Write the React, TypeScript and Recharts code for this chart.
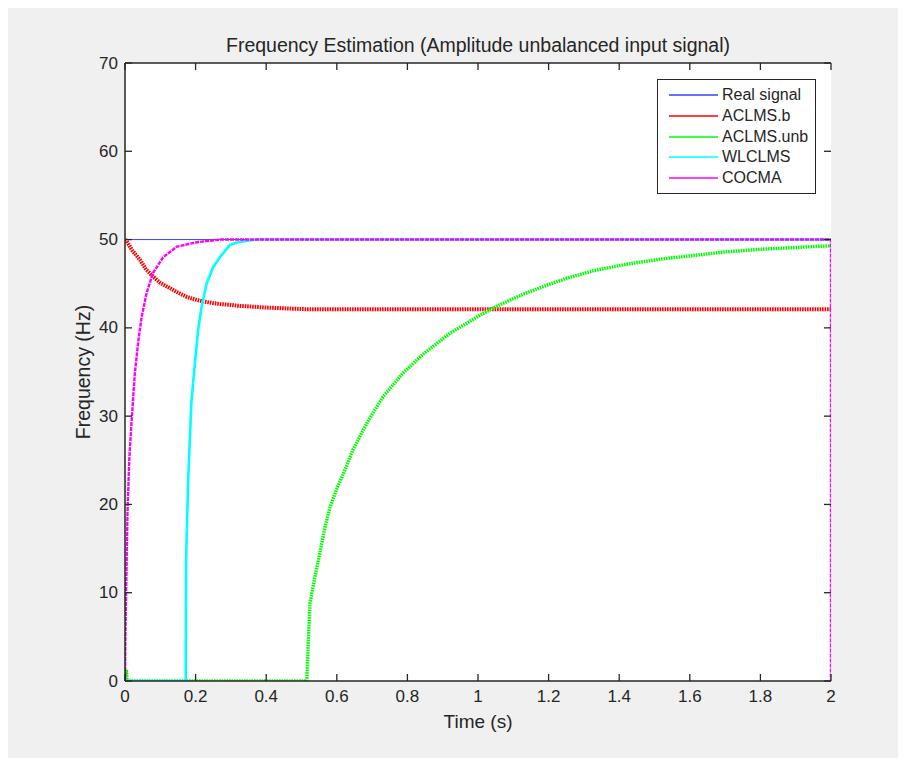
import React from 'react';
import { LineChart, Line, XAxis, YAxis, Legend, ReferenceLine } from 'recharts';

// Axis ticks
const timeTicks = [0, 0.2, 0.4, 0.6, 0.8, 1, 1.2, 1.4, 1.6, 1.8, 2];
const freqTicks = [0, 10, 20, 30, 40, 50, 60, 70];

// Real signal (Hz)
const realTime = [0, 2];
const realFreq = [50, 50];

// ACLMS.b estimate
const aclmsBTime = [0, 0.005, 0.02, 0.0425, 0.06, 0.08, 0.1, 0.127, 0.15, 0.175, 0.2, 0.221, 0.25, 0.269, 0.3, 0.32, 0.4, 0.52, 1, 1.5, 2];
const aclmsBFreq = [50, 49.8, 48.8, 47.7, 46.6, 45.8, 45.1, 44.5, 44.0, 43.5, 43.2, 43.0, 42.8, 42.7, 42.6, 42.5, 42.3, 42.1, 42.1, 42.1, 42.1];

// ACLMS.unb estimate
const aclmsUnbTime = [0, 0.004, 0.006, 0.515, 0.52, 0.524, 0.538, 0.552, 0.567, 0.581, 0.6, 0.618, 0.646, 0.685, 0.731, 0.788, 0.844, 0.921, 1.0, 1.05, 1.127, 1.2, 1.25, 1.33, 1.42, 1.52, 1.61, 1.7, 1.8, 1.9, 2.0];
const aclmsUnbFreq = [0, 1.3, 0, 0, 5, 8.8, 11.8, 14.5, 17.5, 19.7, 21.8, 23.4, 26.2, 29.2, 32.2, 34.9, 37.0, 39.4, 41.3, 42.4, 43.8, 44.9, 45.6, 46.5, 47.2, 47.8, 48.2, 48.6, 48.9, 49.1, 49.3];

// WLCLMS estimate
const wlclmsTime = [0, 0.172, 0.173, 0.179, 0.188, 0.198, 0.207, 0.217, 0.231, 0.25, 0.269, 0.297, 0.32, 0.37, 2.0];
const wlclmsFreq = [0, 0, 13.7, 22.8, 31.5, 36, 39.7, 42.4, 45, 46.9, 48, 49.4, 49.7, 50, 50];

// COCMA estimate
const cocmaTime = [0, 0.001, 0.004, 0.007, 0.012, 0.017, 0.028, 0.038, 0.047, 0.061, 0.079, 0.108, 0.147, 0.204, 0.27, 2.0, 2.0];
const cocmaFreq = [0, 5, 12, 19, 25, 28.4, 34.9, 38.6, 41.2, 43.9, 46.2, 48, 49.2, 49.7, 50, 50, 0];

const seriesNames = ['Real signal', 'ACLMS.b', 'ACLMS.unb', 'WLCLMS', 'COCMA'];
const seriesColors = ['#3344ff', '#ff0000', '#00ff00', '#00ffff', '#ff00ff'];
const seriesWidths = [1, 4, 3.4, 2.6, 2.4];
// the estimators ripple around their mean; a fine dash keeps the band's texture
const seriesDash = ['', '1.6 0.9', '1.6 0.9', '', '4 1'];

const toPoints = (t: number[], f: number[]) => t.map((v, i) => ({ t: v, f: f[i] }));

const seriesData = [
  toPoints(realTime, realFreq),
  toPoints(aclmsBTime, aclmsBFreq),
  toPoints(aclmsUnbTime, aclmsUnbFreq),
  toPoints(wlclmsTime, wlclmsFreq),
  toPoints(cocmaTime, cocmaFreq),
];

const FONT = '"Liberation Sans", Arial, Helvetica, sans-serif';
const INK = '#262626';
const TICK_LEN = 7;
const X_TICK_GAP = 15;
const Y_TICK_GAP = 7;

const CHART_W = 898;
const CHART_H = 750;
const MARGIN = { top: 0, right: 75, bottom: 0, left: 0 };
const X_AXIS_H = 77;
const TOP_AXIS_H = 55;
const Y_AXIS_W = 117;
const PLOT_W = CHART_W - MARGIN.left - MARGIN.right - Y_AXIS_W;
const PLOT_H = CHART_H - MARGIN.top - MARGIN.bottom - TOP_AXIS_H - X_AXIS_H;

const T_MIN = timeTicks[0];
const T_MAX = timeTicks[timeTicks.length - 1];
const F_MIN = freqTicks[0];
const F_MAX = freqTicks[freqTicks.length - 1];
// tick mark length expressed in each axis' units
const TICK_DT = ((T_MAX - T_MIN) * TICK_LEN) / PLOT_W;
const TICK_DF = ((F_MAX - F_MIN) * TICK_LEN) / PLOT_H;

const LegendBox = () => (
  <div
    style={{
      width: 157,
      height: 108,
      border: `1px solid ${INK}`,
      background: '#ffffff',
      boxSizing: 'content-box',
      paddingTop: 5,
      fontFamily: FONT,
      fontSize: 16,
      color: INK,
    }}
  >
    {seriesNames.map((name, i) => (
      <div key={name} style={{ height: 20.7, display: 'flex', alignItems: 'center' }}>
        <svg width={64} height={10} style={{ flex: 'none' }}>
          <line x1={11} x2={60} y1={5} y2={5} stroke={seriesColors[i]} strokeWidth={1.5} />
        </svg>
        <span style={{ lineHeight: '20px' }}>{name}</span>
      </div>
    ))}
  </div>
);

const BottomTick = (props: any) => {
  const { x, y, payload } = props;
  return (
    <text x={x} y={y + 6} textAnchor="middle" fontFamily={FONT} fontSize={17} fill={INK}>
      {payload.value}
    </text>
  );
};

const LeftTick = (props: any) => {
  const { x, y, payload } = props;
  return (
    <text x={x} y={y} textAnchor="end" dominantBaseline="central" fontFamily={FONT} fontSize={17} fill={INK}>
      {payload.value}
    </text>
  );
};

const TitleLabel = (props: any) => {
  const vb = props.viewBox || {};
  return (
    <text x={vb.x + vb.width / 2} y={vb.y + vb.height - 11} textAnchor="middle" fontFamily={FONT} fontSize={19.5} fill={INK}>
      Frequency Estimation (Amplitude unbalanced input signal)
    </text>
  );
};

const XTitle = (props: any) => {
  const vb = props.viewBox || {};
  return (
    <text x={vb.x + vb.width / 2} y={vb.y + 47} textAnchor="middle" fontFamily={FONT} fontSize={19} fill={INK}>
      Time (s)
    </text>
  );
};

const YTitle = (props: any) => {
  const vb = props.viewBox || {};
  const cx = vb.x + 75;
  const cy = vb.y + vb.height / 2;
  return (
    <text
      x={cx}
      y={cy}
      transform={`rotate(-90 ${cx} ${cy})`}
      textAnchor="middle"
      dominantBaseline="central"
      fontFamily={FONT}
      fontSize={19.5}
      fill={INK}
    >
      Frequency (Hz)
    </text>
  );
};

const tickMark = { stroke: INK, strokeWidth: 1.3, ifOverflow: 'visible' as const };

export default function App() {
  // white axes background sits behind the transparent chart svg
  const plotBox = {
    left: MARGIN.left + Y_AXIS_W,
    top: MARGIN.top + TOP_AXIS_H,
    width: PLOT_W,
    height: PLOT_H,
  };
  return (
    <div style={{ width: CHART_W, height: CHART_H, background: '#f0f0f0', position: 'relative' }}>
      <div style={{ position: 'absolute', background: '#ffffff', ...plotBox }} />
      <LineChart width={CHART_W} height={CHART_H} margin={MARGIN}>
        {seriesData.map((data, i) => (
          <Line
            key={seriesNames[i]}
            xAxisId="b"
            yAxisId="l"
            data={data}
            dataKey="f"
            name={seriesNames[i]}
            type="linear"
            stroke={seriesColors[i]}
            strokeWidth={seriesWidths[i]}
            strokeDasharray={seriesDash[i] || undefined}
            dot={false}
            activeDot={false}
            isAnimationActive={false}
          />
        ))}
        {/* inward tick marks on all four sides of the box */}
        {timeTicks.map((t) => (
          <ReferenceLine
            key={`tb${t}`}
            xAxisId="b"
            yAxisId="l"
            segment={[{ x: t, y: F_MIN }, { x: t, y: F_MIN + TICK_DF }]}
            {...tickMark}
          />
        ))}
        {timeTicks.map((t) => (
          <ReferenceLine
            key={`tt${t}`}
            xAxisId="b"
            yAxisId="l"
            segment={[{ x: t, y: F_MAX }, { x: t, y: F_MAX - TICK_DF }]}
            {...tickMark}
          />
        ))}
        {freqTicks.map((f) => (
          <ReferenceLine
            key={`tl${f}`}
            xAxisId="b"
            yAxisId="l"
            segment={[{ x: T_MIN, y: f }, { x: T_MIN + TICK_DT, y: f }]}
            {...tickMark}
          />
        ))}
        {freqTicks.map((f) => (
          <ReferenceLine
            key={`tr${f}`}
            xAxisId="b"
            yAxisId="l"
            segment={[{ x: T_MAX, y: f }, { x: T_MAX - TICK_DT, y: f }]}
            {...tickMark}
          />
        ))}
        <XAxis
          xAxisId="b"
          dataKey="t"
          type="number"
          domain={[T_MIN, T_MAX]}
          ticks={timeTicks}
          interval={0}
          height={X_AXIS_H}
          tickSize={0}
          tickLine={false}
          tickMargin={X_TICK_GAP}
          stroke={INK}
          strokeWidth={1.5}
          tick={<BottomTick />}
          allowDataOverflow
          label={<XTitle />}
        />
        <XAxis
          xAxisId="top"
          orientation="top"
          type="number"
          domain={[T_MIN, T_MAX]}
          ticks={timeTicks}
          interval={0}
          height={TOP_AXIS_H}
          tickSize={0}
          tickLine={false}
          tick={false}
          stroke={INK}
          strokeWidth={1.5}
          allowDataOverflow
          label={<TitleLabel />}
        />
        <YAxis
          yAxisId="l"
          type="number"
          domain={[F_MIN, F_MAX]}
          ticks={freqTicks}
          interval={0}
          width={Y_AXIS_W}
          tickSize={0}
          tickLine={false}
          tickMargin={Y_TICK_GAP}
          stroke={INK}
          strokeWidth={1.5}
          tick={<LeftTick />}
          allowDataOverflow
          label={<YTitle />}
        />
        <YAxis
          yAxisId="r"
          orientation="right"
          type="number"
          domain={[F_MIN, F_MAX]}
          ticks={freqTicks}
          interval={0}
          width={0}
          tickSize={0}
          tickLine={false}
          tick={false}
          stroke={INK}
          strokeWidth={1.5}
          allowDataOverflow
        />
        <Legend
          layout="vertical"
          align="center"
          verticalAlign="middle"
          wrapperStyle={{ position: 'absolute', left: 649, top: 71, width: 159 }}
          content={() => <LegendBox />}
        />
      </LineChart>
    </div>
  );
}
